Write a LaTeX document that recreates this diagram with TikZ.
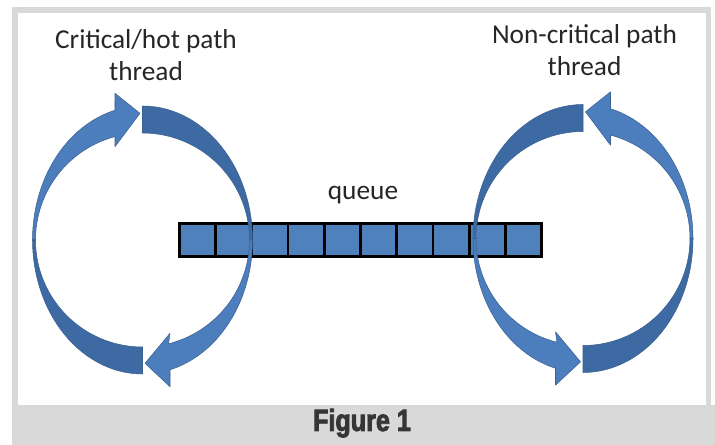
\documentclass[tikz,border=0pt]{standalone}
\usepackage{graphicx}
\usepackage{fontspec}
\setmainfont{Carlito}
\newfontfamily\figfont[FakeBold=2.6, FakeStretch=0.82]{Liberation Sans}
\definecolor{qblue}{HTML}{4F81BD}
\definecolor{lightarc}{HTML}{4C7EBE}
\definecolor{darkarc}{HTML}{3E6AA3}
\definecolor{arcedge}{HTML}{3A6190}
\definecolor{framegrey}{HTML}{D9D9D9}
\definecolor{figtext}{HTML}{363636}
\tikzset{
  darkpart/.style={fill=darkarc, draw=arcedge, line width=0.4pt, line join=round},
  lightpart/.style={fill=lightarc, draw=arcedge, line width=0.4pt, line join=round},
  cell/.style={draw=black, line width=2.2pt, fill=qblue, minimum width=27.19pt,
    minimum height=25.1pt, inner sep=0pt, outer sep=0pt},
  lbl/.style={font=\fontsize{20.5}{24}\selectfont, align=center, inner sep=0pt, text=black!85},
}
\newcommand\threadloop{%
  % arrow A: dark back part, bottom to left
  \path[darkpart] plot[domain=180:270, samples=50] ({142.5+110*cos(\x)},{240-134*sin(\x)})
    -- plot[domain=270:180, samples=50] ({142.5+107*cos(\x)},{240-107*sin(\x)}) -- cycle;
  % arrow A: light front part with head at the top
  \path[lightpart] plot[domain=180:104.48, samples=50] ({142.5+110*cos(\x)},{240-134*sin(\x)})
    -- (115,93.3) -- (140,113.3) -- (115,146.7)
    -- plot[domain=104.89:180, samples=50] ({142.5+107*cos(\x)},{240-107*sin(\x)}) -- cycle;
  % arrow B: dark back part, top to right
  \path[darkpart] plot[domain=90:0, samples=50] ({142.5+110*cos(\x)},{240-134*sin(\x)})
    -- plot[domain=0:90, samples=50] ({142.5+107*cos(\x)},{240-107*sin(\x)}) -- cycle;
  % arrow B: light front part with head at the bottom
  \path[lightpart] plot[domain=0:-75.52, samples=50] ({142.5+110*cos(\x)},{240-134*sin(\x)})
    -- (170,386.7) -- (145,363.3) -- (170,333.3)
    -- plot[domain=-75.89:0, samples=50] ({142.5+107*cos(\x)},{240-107*sin(\x)}) -- cycle;
}
\begin{document}
\begin{tikzpicture}[x=0.75pt, y=-0.75pt]
  \useasboundingbox (0,0) rectangle (715,445);
  \fill[white] (0,0) rectangle (715,445);
  % frame
  \fill[framegrey] (12,7) rectangle (711,405);
  \fill[white] (18,13) rectangle (706,405);
  \fill[framegrey] (12,405) rectangle (715,445);
  % queue
  \foreach \i in {0,...,9}
    \node[cell] (q\i) at ({179.25+36.25*(\i+0.5)},240) {};
  % circular arrows
  \begin{scope}
    \threadloop
  \end{scope}
  \begin{scope}[shift={(725.5,-1.5)}, xscale=-1]
    \threadloop
  \end{scope}
  % labels
  \node[lbl] (hot) at (146,55) {Critical/hot path\\thread};
  \node[lbl] (cold) at (584.5,50) {Non-critical path\\thread};
  \node[lbl, anchor=base] (qlabel) at (363,200) {queue};
  \node[anchor=base, inner sep=0pt, text=figtext] (fig) at (362,431)
    {\figfont\bfseries\fontsize{23}{23}\selectfont Figure 1};
\end{tikzpicture}
\end{document}
